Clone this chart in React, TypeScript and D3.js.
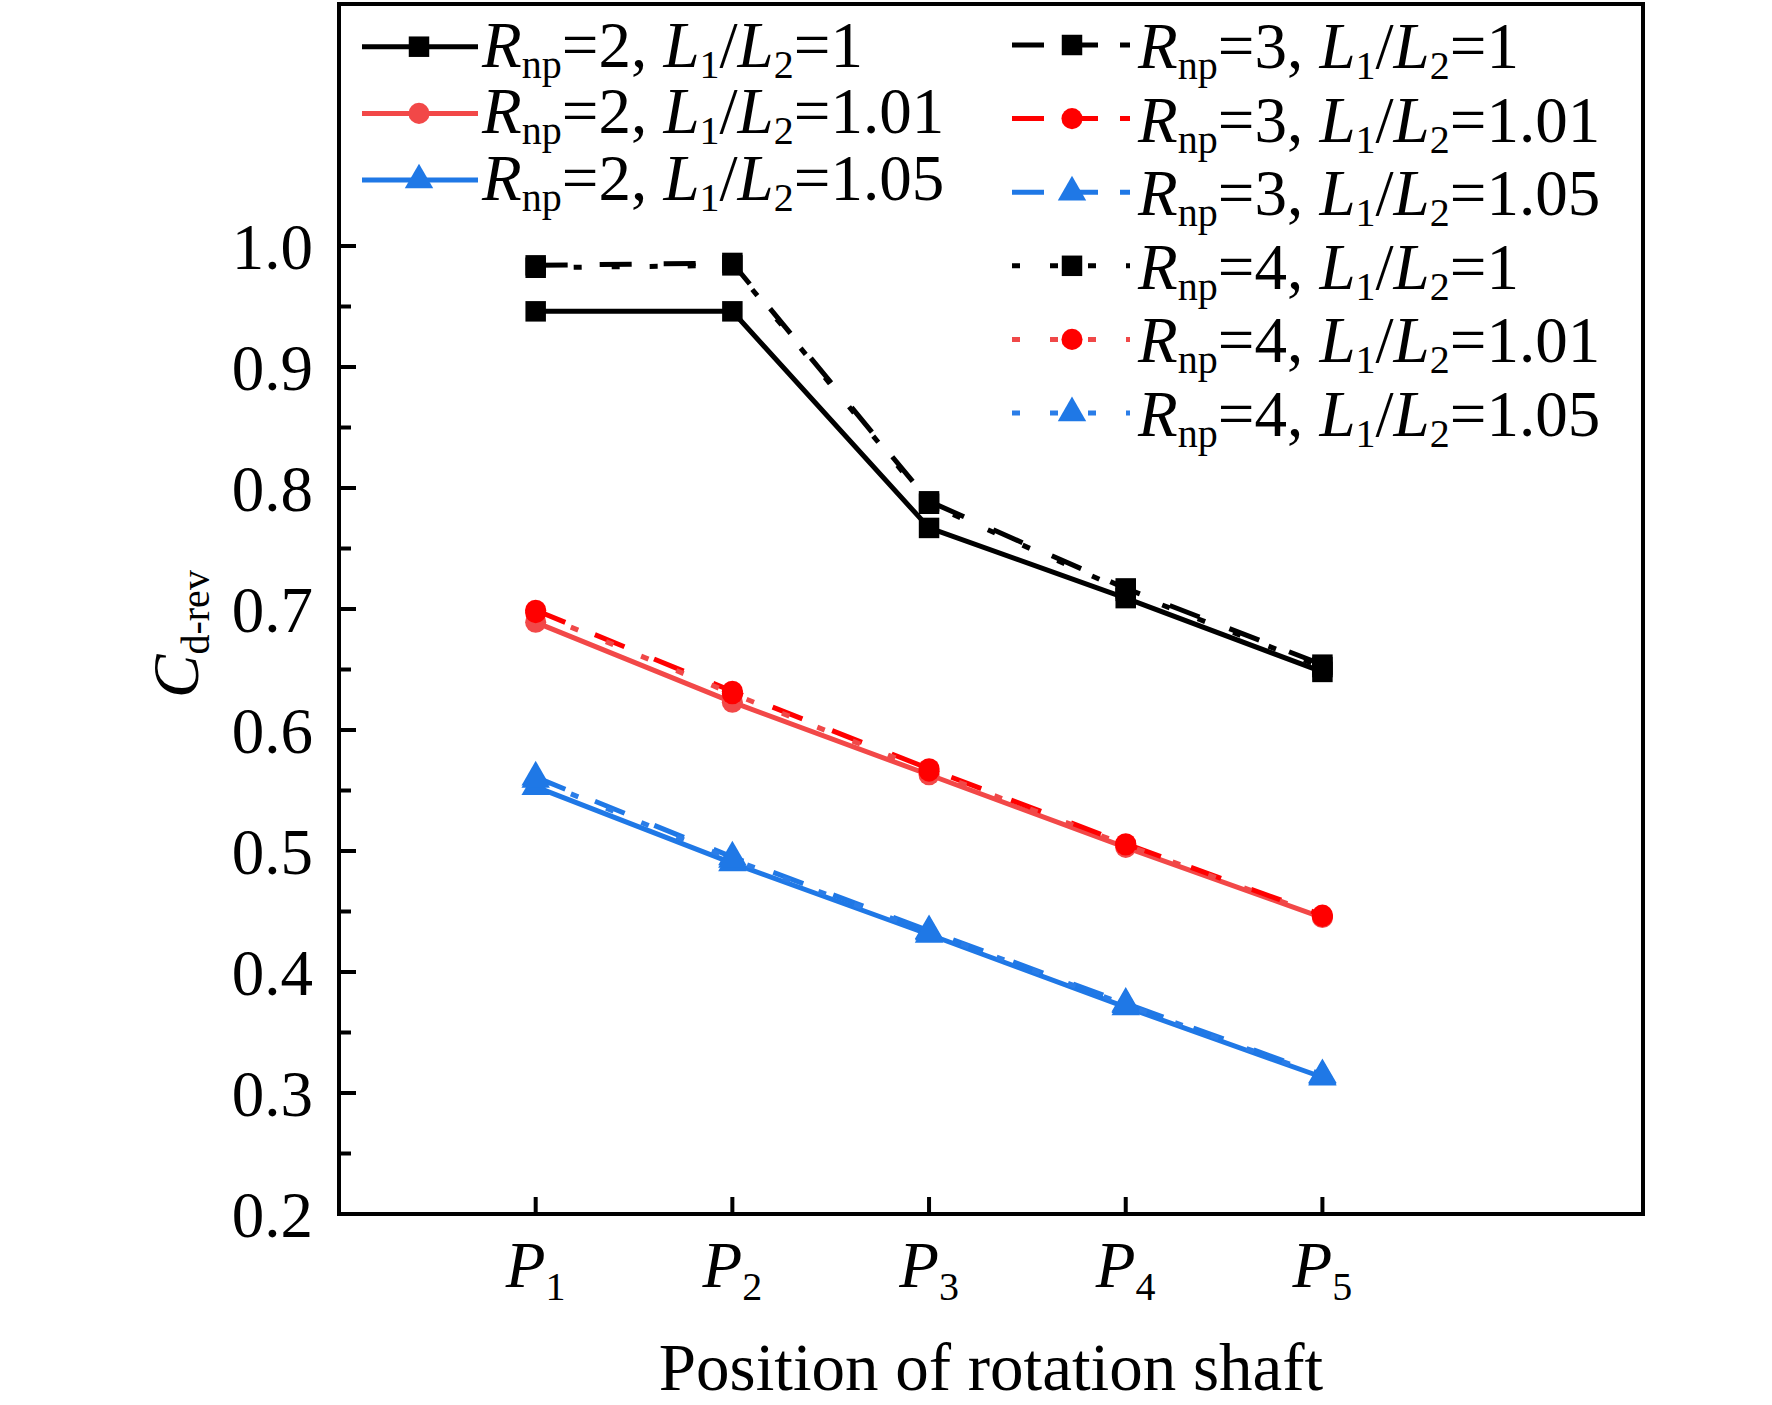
import * as d3 from "d3";
import { useEffect, useRef } from "react";

// positions P1..P5 of the rotation shaft
const positionIndex = [1, 2, 3, 4, 5];
const positionLabels = ["1", "2", "3", "4", "5"];
const yMajorTicks = [0.2, 0.3, 0.4, 0.5, 0.6, 0.7, 0.8, 0.9, 1.0];
const yMinorTicks = [0.25, 0.35, 0.45, 0.55, 0.65, 0.75, 0.85, 0.95];

// C_d-rev
const rnp2Ratio100 = [0.946, 0.946, 0.767, 0.709, 0.648];
const rnp2Ratio101 = [0.689, 0.623, 0.563, 0.503, 0.445];
const rnp2Ratio105 = [0.553, 0.49, 0.431, 0.371, 0.313];
const rnp3Ratio100 = [0.984, 0.986, 0.789, 0.717, 0.654];
const rnp3Ratio101 = [0.699, 0.632, 0.568, 0.506, 0.447];
const rnp3Ratio105 = [0.561, 0.495, 0.434, 0.374, 0.315];
const rnp4Ratio100 = [0.982, 0.984, 0.787, 0.715, 0.652];
const rnp4Ratio101 = [0.697, 0.63, 0.566, 0.505, 0.446];
const rnp4Ratio105 = [0.559, 0.493, 0.433, 0.373, 0.314];

type Shape = "square" | "circle" | "triangle";

type Series = {
  values: number[];
  rnp: string;
  ratio: string;
  stroke: string;
  fill: string;
  dash: string | null;
  shape: Shape;
};

const series: Series[] = [
  { values: rnp2Ratio100, rnp: "2", ratio: "1", stroke: "#000000", fill: "#000000", dash: null, shape: "square" },
  { values: rnp2Ratio101, rnp: "2", ratio: "1.01", stroke: "#f24848", fill: "#f24848", dash: null, shape: "circle" },
  { values: rnp2Ratio105, rnp: "2", ratio: "1.05", stroke: "#1f78e6", fill: "#1f78e6", dash: null, shape: "triangle" },
  { values: rnp3Ratio100, rnp: "3", ratio: "1", stroke: "#000000", fill: "#000000", dash: "32 32", shape: "square" },
  { values: rnp3Ratio101, rnp: "3", ratio: "1.01", stroke: "#ff0000", fill: "#ff0000", dash: "32 32", shape: "circle" },
  { values: rnp3Ratio105, rnp: "3", ratio: "1.05", stroke: "#1f78e6", fill: "#1f78e6", dash: "32 32", shape: "triangle" },
  { values: rnp4Ratio100, rnp: "4", ratio: "1", stroke: "#000000", fill: "#000000", dash: "8 30", shape: "square" },
  { values: rnp4Ratio101, rnp: "4", ratio: "1.01", stroke: "#f04848", fill: "#ff0000", dash: "8 30", shape: "circle" },
  { values: rnp4Ratio105, rnp: "4", ratio: "1.05", stroke: "#2a7de8", fill: "#1f78e6", dash: "8 30", shape: "triangle" },
];

type Part = { t: string; it?: boolean; sub?: boolean };

const FONT = "'Liberation Serif', 'Times New Roman', serif";

function legendParts(s: Series): Part[] {
  return [
    { t: "R", it: true },
    { t: "np", sub: true },
    { t: `=${s.rnp}, ` },
    { t: "L", it: true },
    { t: "1", sub: true },
    { t: "/" },
    { t: "L", it: true },
    { t: "2", sub: true },
    { t: `=${s.ratio}` },
  ];
}

function writeParts(
  text: d3.Selection<SVGTextElement, unknown, null, undefined>,
  parts: Part[],
  size: number,
  subSize: number,
  subShift: number
) {
  let lowered = false;
  parts.forEach((p) => {
    const span = text.append("tspan").text(p.t);
    if (p.it) span.attr("font-style", "italic");
    if (p.sub) {
      span.attr("font-size", subSize);
      if (!lowered) span.attr("dy", subShift);
      lowered = true;
    } else {
      span.attr("font-size", size);
      if (lowered) span.attr("dy", -subShift);
      lowered = false;
    }
  });
}

export default function App() {
  const svgRef = useRef<SVGSVGElement | null>(null);

  useEffect(() => {
    if (!svgRef.current) return;
    const width = 1772;
    const height = 1405;
    const frame = { left: 339, right: 1643, top: 4, bottom: 1214 };

    const svg = d3.select(svgRef.current);
    svg.selectAll("*").remove();
    svg.attr("viewBox", `0 0 ${width} ${height}`);

    const x = d3.scaleLinear().domain([0, 6.63]).range([frame.left, frame.right]);
    const y = d3.scaleLinear().domain([0.2, 1.2]).range([frame.bottom, frame.top]);

    const symbolFor = (shape: Shape) =>
      shape === "square"
        ? d3.symbol(d3.symbolSquare, 420)()
        : shape === "circle"
        ? d3.symbol(d3.symbolCircle, 350)()
        : d3.symbol(d3.symbolTriangle, 350)();

    const line = d3
      .line<number>()
      .x((_, i) => x(positionIndex[i]))
      .y((v) => y(v));

    // series lines + markers
    const plot = svg.append("g");
    series.forEach((s) => {
      plot
        .append("path")
        .datum(s.values)
        .attr("d", line)
        .attr("fill", "none")
        .attr("stroke", s.stroke)
        .attr("stroke-width", 5)
        .attr("stroke-dasharray", s.dash ?? null);

      plot
        .selectAll(null)
        .data(s.values)
        .join("path")
        .attr("d", symbolFor(s.shape))
        .attr("transform", (v, i) => `translate(${x(positionIndex[i])},${y(v)})`)
        .attr("fill", s.fill);
    });

    // frame
    svg
      .append("rect")
      .attr("x", frame.left)
      .attr("y", frame.top)
      .attr("width", frame.right - frame.left)
      .attr("height", frame.bottom - frame.top)
      .attr("fill", "none")
      .attr("stroke", "#000")
      .attr("stroke-width", 4);

    // ticks, pointing inward
    const axis = svg.append("g").attr("stroke", "#000").attr("stroke-width", 4);
    axis
      .selectAll(".ymaj")
      .data(yMajorTicks)
      .join("line")
      .attr("x1", frame.left)
      .attr("x2", frame.left + 17)
      .attr("y1", (v) => y(v))
      .attr("y2", (v) => y(v));
    axis
      .selectAll(".ymin")
      .data(yMinorTicks)
      .join("line")
      .attr("x1", frame.left)
      .attr("x2", frame.left + 12)
      .attr("y1", (v) => y(v))
      .attr("y2", (v) => y(v));
    axis
      .selectAll(".xt")
      .data(positionIndex)
      .join("line")
      .attr("x1", (p) => x(p))
      .attr("x2", (p) => x(p))
      .attr("y1", frame.bottom)
      .attr("y2", frame.bottom - 17);

    svg
      .append("g")
      .selectAll("text")
      .data(yMajorTicks)
      .join("text")
      .attr("x", frame.left - 26)
      .attr("y", (v) => y(v) + 23)
      .attr("text-anchor", "end")
      .attr("font-family", FONT)
      .attr("font-size", 65)
      .text((v) => d3.format(".1f")(v));

    // x tick labels P1..P5
    positionIndex.forEach((p, i) => {
      const t = svg
        .append("text")
        .attr("x", x(p))
        .attr("y", 1287)
        .attr("text-anchor", "middle")
        .attr("font-family", FONT);
      writeParts(t, [{ t: "P", it: true }, { t: positionLabels[i], sub: true }], 65, 40, 13);
    });

    // axis titles
    svg
      .append("text")
      .attr("x", (frame.left + frame.right) / 2)
      .attr("y", 1390)
      .attr("text-anchor", "middle")
      .attr("font-family", FONT)
      .attr("font-size", 67)
      .text("Position of rotation shaft");

    const yTitle = svg
      .append("text")
      .attr("transform", "translate(198,634) rotate(-90)")
      .attr("text-anchor", "middle")
      .attr("font-family", FONT);
    writeParts(yTitle, [{ t: "C", it: true }, { t: "d-rev", sub: true }], 65, 40, 11);

    // legend, two columns
    const legend = svg.append("g");
    series.forEach((s, i) => {
      const left = i < 3;
      const row = left ? i : i - 3;
      const ly = left ? 46.7 + row * 66.7 : 45 + row * 73.6;
      const x0 = left ? 362 : 1012;
      const x1 = left ? 478 : 1130;
      const mx = left ? 419 : 1072;
      const tx = left ? 482 : 1138;

      legend
        .append("line")
        .attr("x1", x0)
        .attr("x2", x1)
        .attr("y1", ly)
        .attr("y2", ly)
        .attr("stroke", s.stroke)
        .attr("stroke-width", 5)
        .attr("stroke-dasharray", s.dash ? (s.dash === "32 32" ? "32 22" : s.dash) : null);

      legend
        .append("path")
        .attr("d", symbolFor(s.shape))
        .attr("transform", `translate(${mx},${ly})`)
        .attr("fill", s.fill);

      const t = legend
        .append("text")
        .attr("x", tx)
        .attr("y", ly + (left ? 20 : 23))
        .attr("font-family", FONT)
        .style("white-space", "pre");
      writeParts(t, legendParts(s), 65, 40, 11);
    });
  }, []);

  return (
    <svg
      ref={svgRef}
      width={1772}
      height={1405}
      style={{ position: "absolute", left: 0, top: 0, background: "#fff" }}
    />
  );
}
